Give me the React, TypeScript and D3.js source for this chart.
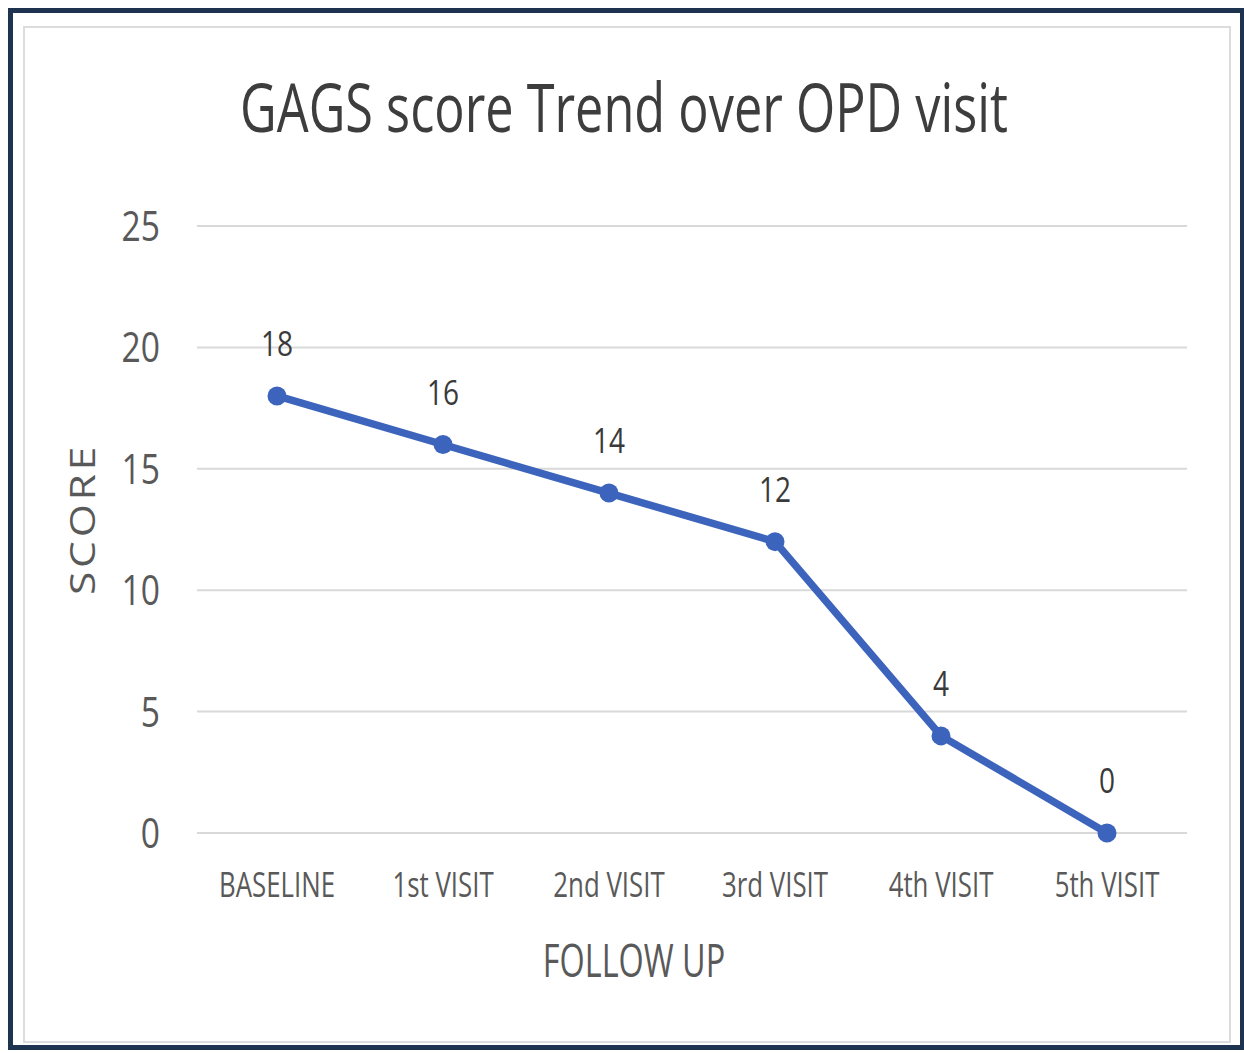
import React, { useRef, useEffect } from 'react';
import * as d3 from 'd3';

const visits: string[] = ['BASELINE', '1st VISIT', '2nd VISIT', '3rd VISIT', '4th VISIT', '5th VISIT'];
const scores: number[] = [18, 16, 14, 12, 4, 0];
const yTicks: number[] = [0, 5, 10, 15, 20, 25];

const title = 'GAGS score Trend over OPD visit';
const xTitle = 'FOLLOW UP';
const yTitle = 'SCORE';

const width = 1244;
const height = 1053;
const margin = { top: 226, right: 54, bottom: 220, left: 194 };
const font = '"Open Sans", "DejaVu Sans", sans-serif';

function App() {
    const ref = useRef<SVGSVGElement>(null);

    useEffect(() => {
        if (!ref.current) return;
        const svg = d3.select(ref.current);
        svg.selectAll('*').remove();

        const x = d3.scaleBand()
            .domain(visits)
            .range([margin.left, width - margin.right]);

        const y = d3.scaleLinear()
            .domain([0, 25])
            .range([height - margin.bottom, margin.top]);

        const cx = (d: string) => (x(d) as number) + x.bandwidth() / 2;

        // squeeze a text horizontally so it fits the given width
        const fitWidth = (g: any, target: number) => {
            const node = g.select('text').node() as SVGTextElement;
            const len = node.getComputedTextLength();
            const t = g.attr('transform');
            g.attr('transform', `${t} scale(${target / len},1)`);
        };

        // frames
        svg.append('rect')
            .attr('width', width).attr('height', height)
            .attr('fill', '#ffffff');
        svg.append('rect')
            .attr('x', 10.5).attr('y', 10.5)
            .attr('width', 1232).attr('height', 1037)
            .attr('fill', 'none')
            .attr('stroke', '#1e3350')
            .attr('stroke-width', 5);
        svg.append('rect')
            .attr('x', 24).attr('y', 27)
            .attr('width', 1206).attr('height', 1015)
            .attr('fill', 'none')
            .attr('stroke', '#dcdcdc')
            .attr('stroke-width', 2);

        // gridlines
        svg.append('g')
            .selectAll('line')
            .data(yTicks)
            .join('line')
                .attr('x1', margin.left + 3)
                .attr('x2', width - margin.right - 3)
                .attr('y1', d => y(d))
                .attr('y2', d => y(d))
                .attr('stroke', '#d9d9d9')
                .attr('stroke-width', 2);

        // y tick labels
        svg.append('g')
            .selectAll('g')
            .data(yTicks)
            .join('g')
                .attr('transform', d => `translate(160,${y(d) + 15}) scale(0.8,1)`)
            .append('text')
                .attr('text-anchor', 'end')
                .attr('font-family', font)
                .attr('font-size', 42)
                .attr('fill', '#595959')
                .text(d => d);

        // x tick labels
        svg.append('g')
            .selectAll('g')
            .data(visits)
            .join('g')
                .attr('transform', d => `translate(${cx(d)},897) scale(0.76,1)`)
            .append('text')
                .attr('text-anchor', 'middle')
                .attr('font-family', font)
                .attr('font-size', 34)
                .attr('fill', '#595959')
                .text(d => d);

        // line
        const line = d3.line<number>()
            .x((_, i) => cx(visits[i]))
            .y(d => y(d));

        svg.append('path')
            .datum(scores)
            .attr('d', line)
            .attr('fill', 'none')
            .attr('stroke', '#3d64bc')
            .attr('stroke-width', 7.5)
            .attr('stroke-linejoin', 'round');

        svg.append('g')
            .selectAll('circle')
            .data(scores)
            .join('circle')
                .attr('cx', (_, i) => cx(visits[i]))
                .attr('cy', d => y(d))
                .attr('r', 9.5)
                .attr('fill', '#3d64bc');

        // data labels
        svg.append('g')
            .selectAll('g')
            .data(scores)
            .join('g')
                .attr('transform', (d, i) => `translate(${cx(visits[i])},${y(d) - 40}) scale(0.8,1)`)
            .append('text')
                .attr('text-anchor', 'middle')
                .attr('font-family', font)
                .attr('font-size', 35)
                .attr('fill', '#3a3a3a')
                .text(d => d);

        // title
        const titleG = svg.append('g')
            .attr('transform', 'translate(624,132)');
        titleG.append('text')
            .attr('text-anchor', 'middle')
            .attr('font-family', font)
            .attr('font-size', 68)
            .attr('fill', '#3d3d3d')
            .text(title);
        fitWidth(titleG, 768);

        // axis titles
        svg.append('g')
            .attr('transform', 'translate(634,977) scale(0.72,1)')
            .append('text')
                .attr('text-anchor', 'middle')
                .attr('font-family', font)
                .attr('font-size', 45)
                .attr('fill', '#595959')
                .text(xTitle);

        const yTitleG = svg.append('g')
            .attr('transform', 'translate(95,519) rotate(-90)');
        yTitleG.append('text')
            .attr('text-anchor', 'middle')
            .attr('font-family', font)
            .attr('font-size', 35)
            .attr('letter-spacing', 3)
            .attr('fill', '#595959')
            .text(yTitle);
        fitWidth(yTitleG, 152);
    }, []);

    return (
        <svg
            ref={ref}
            width={width}
            height={height}
            style={{ position: 'fixed', left: 0, top: 0 }}
        />
    );
}

export default App;
